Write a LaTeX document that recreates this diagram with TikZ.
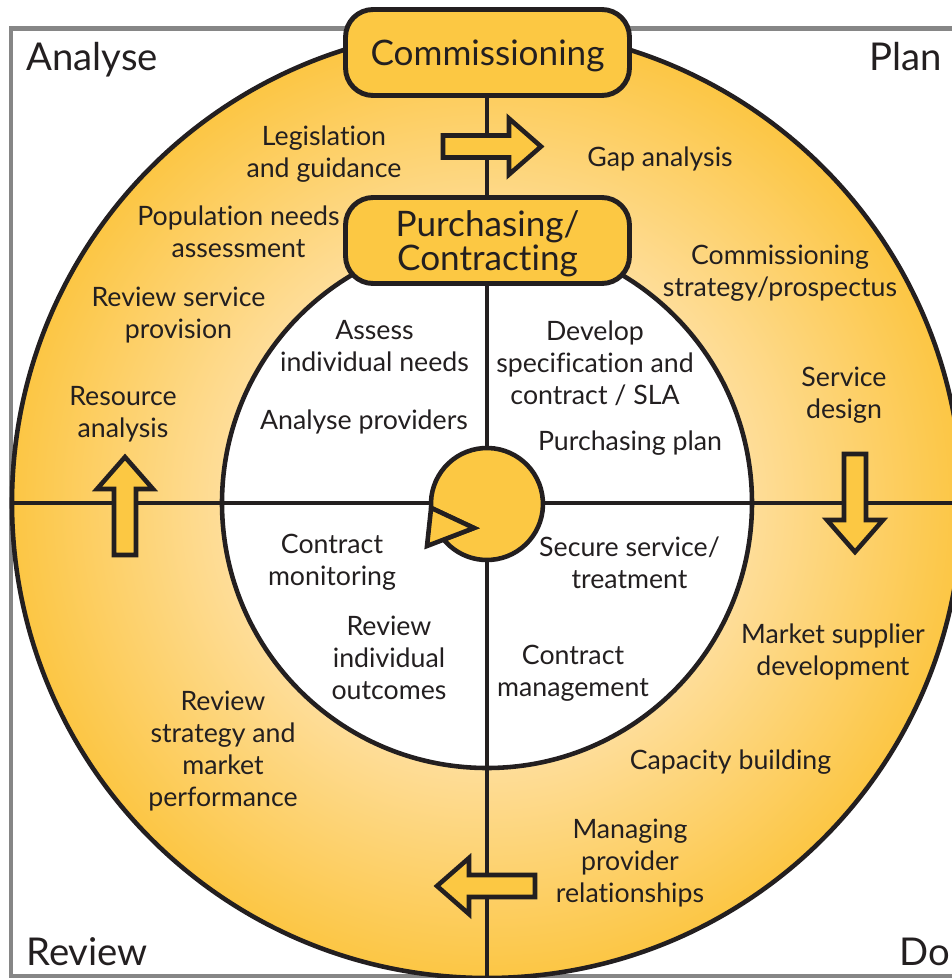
\documentclass[tikz,border=0pt]{standalone}
\usepackage{fontspec}
\setmainfont{Lato}[Ligatures=NoCommon]
\usetikzlibrary{positioning,shapes}

\definecolor{ink}{HTML}{231F20}
\definecolor{gold}{HTML}{FCC843}
\definecolor{ringin}{HTML}{FEDD98}
\definecolor{ringout}{HTML}{FCC644}
\definecolor{framegrey}{HTML}{868686}
\pgfdeclareradialshading{ringfade}{\pgfpoint{0bp}{0bp}}{color(0bp)=(ringin); color(14bp)=(ringin); color(25bp)=(ringout); color(50bp)=(ringout)}

\begin{document}
\begin{tikzpicture}[x=0.02cm,y=-0.02cm,
    heavy/.style={draw=ink,line width=2.6pt},
    box/.style={draw=ink,fill=gold,line width=2.8pt,rounded corners=0.55cm,minimum width=5.68cm,minimum height=1.72cm,align=center,text=ink,text depth=0pt,font=\fontsize{20}{19.3}\selectfont},
    lbl/.style={align=center,text=ink,inner sep=0pt,yshift=-0.05cm,font=\fontsize{15.2}{18.2}\selectfont},
    corner/.style={text=ink,inner sep=0pt,font=\fontsize{21.8}{24}\selectfont},
    blockarrow/.style={draw=ink,fill=gold,line width=2.6pt,line join=miter}]
  \useasboundingbox (0,0) rectangle (952,978);
  \coordinate (c) at (487,503);
  \coordinate (vtop) at (487,98);
  \coordinate (vbot) at (487,985);
  \coordinate (hl) at (12,503);
  \coordinate (hr) at (965,503);

  % frame
  \draw[framegrey,line width=2.8pt] (990,28.5) -- (11,28.5) -- (11,976) -- (990,976);

  % outer ring and inner disc
  \shade[shading=ringfade] (c) circle[radius=475];
  \draw[heavy] (c) circle[radius=475];
  \draw[heavy,fill=white] (c) circle[radius=265];
  \draw[heavy] (vtop) -- (vbot);
  \draw[heavy] (hl) -- (hr);

  % block arrows: tip x/y and direction
  \foreach \tx/\ty/\dx/\dy in {541/146.5/1/0, 437/886/-1/0, 125/457/0/-1, 855/552/0/1}
    \draw[blockarrow] (\tx,\ty)--(\tx-32*\dx+28*\dy,\ty-32*\dy-28*\dx)--(\tx-32*\dx+11*\dy,\ty-32*\dy-11*\dx)
      --(\tx-98*\dx+11*\dy,\ty-98*\dy-11*\dx)--(\tx-98*\dx-11*\dy,\ty-98*\dy+11*\dx)
      --(\tx-32*\dx-11*\dy,\ty-32*\dy+11*\dx)--(\tx-32*\dx-28*\dy,\ty-32*\dy+28*\dx)--cycle;

  % hub with pointer
  \coordinate (hubA) at (431.1,507.9);
  \coordinate (hubT) at (474,528);
  \coordinate (hubP) at (427,546);
  \filldraw[heavy,fill=gold,line join=miter] (hubA) arc[start angle=176,end angle=500.5,radius=56] -- (hubT) -- cycle;
  \filldraw[blockarrow] (hubA) -- (hubT) -- (hubP) -- cycle;

  % boxes
  \node[box] (comm) at (487.5,52.5) {Commissioning};
  \node[box] (purch) at (487.5,240.5) {Purchasing/\\Contracting};

  % corners
  \node[corner,anchor=base west] (analyse) at (26,70) {Analyse};
  \node[corner,anchor=base east] (plan) at (942,70) {Plan};
  \node[corner,anchor=base west] (review) at (26,965) {Review};
  \node[corner,anchor=base west] (do) at (899,965) {Do};

  % outer ring
  \node[lbl] (legis) at (324,152) {Legislation\\and guidance};
  \node[lbl] (gap) at (660,156) {Gap analysis};
  \node[lbl] (popneeds) at (238.5,229) {Population needs\\assessment};
  \node[lbl] (commstrat) at (780,271) {Commissioning\\strategy/prospectus};
  \node[lbl] (revprov) at (178.5,313) {Review service\\provision};
  \node[lbl] (servdesign) at (844,393) {Service\\design};
  \node[lbl] (resource) at (123,412) {Resource\\analysis};
  \node[lbl] (market) at (833,649) {Market supplier\\development};
  \node[lbl] (capacity) at (730.5,760) {Capacity building};
  \node[lbl] (revstrat) at (223,749) {Review\\strategy and\\market\\performance};
  \node[lbl] (managing) at (630,861) {Managing\\provider\\relationships};

  % inner disc
  \node[lbl] (assess) at (374.5,344) {Assess\\individual needs};
  \node[lbl] (analprov) at (364,419) {Analyse providers};
  \node[lbl] (develop) at (595,361) {Develop\\specification and\\contract / SLA};
  \node[lbl] (purchplan) at (630,441) {Purchasing plan};
  \node[lbl] (monitor) at (332,560) {Contract\\monitoring};
  \node[lbl] (secure) at (629.5,560) {Secure service/\\treatment};
  \node[lbl] (revout) at (389,655) {Review\\individual\\outcomes};
  \node[lbl] (contmgmt) at (573,671) {Contract\\management};
\end{tikzpicture}
\end{document}
